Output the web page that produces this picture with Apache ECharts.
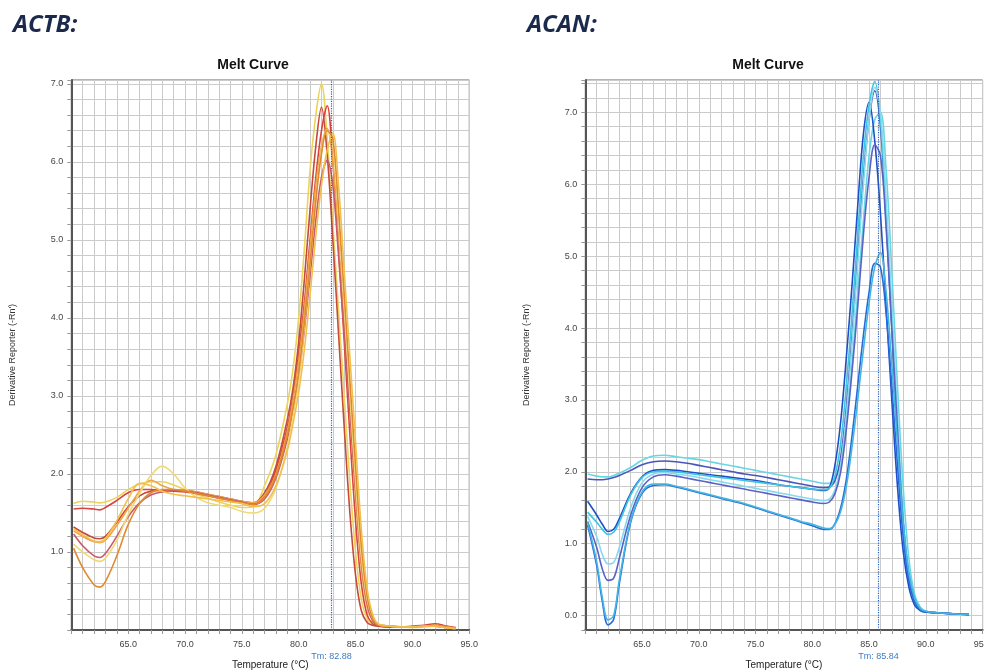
<!DOCTYPE html>
<html>
<head>
<meta charset="utf-8">
<title>Melt Curve</title>
<script src="https://cdn.jsdelivr.net/npm/echarts@6/dist/echarts.min.js"></script>
<style>
  html, body { margin: 0; padding: 0; background: #fff; }
  #chart { width: 984px; height: 670px; }
</style>
</head>
<body>
<div id="chart"></div>
<script>
// temperatures (°C) at which the derivative curves are sampled
const actbTemps = [60.2, 61, 62, 62.5, 63, 64, 65, 66, 67, 68, 69, 70, 71, 72, 73, 74, 75, 76, 77, 78, 79, 79.5, 80, 80.5, 81, 81.5, 82, 82.5, 83, 83.5, 84, 84.5, 85, 85.5, 86, 86.5, 87, 88, 89, 90, 91, 92, 93, 93.8];
const acanTemps = [60.2, 61, 61.5, 62, 62.5, 63, 64, 65, 66, 67, 68, 69, 70, 71, 72, 73, 74, 75, 76, 77, 78, 79, 80, 81, 81.5, 82, 82.5, 83, 83.5, 84, 84.5, 85, 85.5, 86, 86.5, 87, 87.5, 88, 88.5, 89, 89.5, 90, 91, 92, 93, 93.8];

// ACTB wells (-Rn')
const actb1 = [1.62, 1.65, 1.64, 1.63, 1.64, 1.7, 1.8, 1.87, 1.9, 1.9, 1.86, 1.8, 1.74, 1.69, 1.64, 1.6, 1.57, 1.58, 1.85, 2.25, 2.9, 3.35, 4.0, 4.9, 5.9, 6.6, 7.0, 6.3, 5.2, 4.1, 3.0, 1.9, 1.0, 0.4, 0.15, 0.07, 0.05, 0.04, 0.04, 0.03, 0.04, 0.05, 0.03, 0.02];
const actb2 = [1.55, 1.56, 1.55, 1.54, 1.57, 1.66, 1.76, 1.8, 1.8, 1.79, 1.78, 1.77, 1.75, 1.72, 1.69, 1.66, 1.63, 1.62, 1.72, 2.05, 2.6, 3.0, 3.55, 4.2, 5.0, 5.8, 6.4, 6.72, 6.0, 4.9, 3.7, 2.5, 1.4, 0.6, 0.2, 0.08, 0.05, 0.04, 0.04, 0.05, 0.06, 0.08, 0.05, 0.03];
const actb3 = [1.32, 1.25, 1.18, 1.17, 1.2, 1.38, 1.58, 1.72, 1.78, 1.79, 1.79, 1.79, 1.77, 1.74, 1.71, 1.68, 1.65, 1.63, 1.76, 2.1, 2.7, 3.1, 3.7, 4.5, 5.4, 6.2, 6.7, 6.1, 5.0, 3.8, 2.6, 1.5, 0.7, 0.25, 0.1, 0.06, 0.05, 0.04, 0.04, 0.04, 0.05, 0.05, 0.03, 0.02];
const actb4 = [1.27, 1.2, 1.13, 1.12, 1.15, 1.34, 1.56, 1.78, 1.92, 1.85, 1.8, 1.79, 1.77, 1.74, 1.71, 1.68, 1.65, 1.63, 1.73, 2.0, 2.55, 2.95, 3.45, 4.1, 4.9, 5.7, 6.2, 6.43, 6.0, 5.0, 3.9, 2.8, 1.7, 0.8, 0.3, 0.12, 0.06, 0.05, 0.04, 0.04, 0.05, 0.06, 0.04, 0.02];
const actb5 = [1.23, 1.08, 0.95, 0.93, 0.98, 1.2, 1.45, 1.63, 1.73, 1.77, 1.79, 1.78, 1.76, 1.73, 1.7, 1.67, 1.64, 1.61, 1.68, 1.95, 2.45, 2.8, 3.25, 3.85, 4.55, 5.25, 5.8, 6.02, 5.7, 4.8, 3.8, 2.8, 1.8, 0.9, 0.35, 0.12, 0.06, 0.05, 0.04, 0.04, 0.05, 0.05, 0.03, 0.02];
const actb6 = [1.1, 1.0, 0.9, 0.88, 0.92, 1.15, 1.48, 1.75, 1.98, 2.1, 2.0, 1.82, 1.7, 1.63, 1.6, 1.57, 1.52, 1.5, 1.56, 1.82, 2.35, 2.75, 3.2, 3.9, 4.7, 5.5, 6.15, 6.4, 6.2, 5.3, 4.2, 3.0, 1.9, 0.95, 0.4, 0.15, 0.07, 0.05, 0.04, 0.04, 0.04, 0.05, 0.03, 0.02];
const actb7 = [1.05, 0.8, 0.58, 0.55, 0.62, 0.95, 1.35, 1.62, 1.76, 1.8, 1.8, 1.78, 1.75, 1.72, 1.69, 1.66, 1.63, 1.61, 1.7, 1.98, 2.5, 2.85, 3.3, 3.95, 4.7, 5.5, 6.1, 6.4, 6.3, 5.4, 4.3, 3.2, 2.1, 1.1, 0.45, 0.15, 0.07, 0.05, 0.04, 0.04, 0.05, 0.06, 0.04, 0.02];
const actb8 = [1.3, 1.22, 1.14, 1.13, 1.17, 1.4, 1.68, 1.88, 1.85, 1.78, 1.74, 1.72, 1.7, 1.68, 1.66, 1.64, 1.62, 1.58, 1.62, 1.85, 2.3, 2.65, 3.05, 3.6, 4.3, 5.05, 5.7, 6.15, 6.37, 5.7, 4.6, 3.5, 2.4, 1.3, 0.55, 0.2, 0.08, 0.05, 0.04, 0.04, 0.05, 0.05, 0.03, 0.02];

// ACAN wells (-Rn')
const acan1 = [1.97, 1.94, 1.93, 1.93, 1.95, 1.98, 2.06, 2.16, 2.22, 2.23, 2.21, 2.19, 2.17, 2.14, 2.11, 2.08, 2.05, 2.02, 1.99, 1.96, 1.93, 1.9, 1.87, 1.84, 1.84, 1.9, 2.15, 2.7, 3.5, 4.5, 5.5, 6.4, 6.9, 7.0, 6.2, 4.8, 3.2, 1.8, 0.8, 0.3, 0.12, 0.06, 0.04, 0.03, 0.02, 0.02];
const acan2 = [1.9, 1.89, 1.89, 1.9, 1.92, 1.95, 2.02, 2.1, 2.14, 2.15, 2.14, 2.12, 2.09, 2.06, 2.03, 2.0, 1.97, 1.95, 1.92, 1.89, 1.86, 1.83, 1.8, 1.78, 1.79, 1.88, 2.2, 2.9, 3.9, 5.0, 6.1, 6.9, 7.3, 6.8, 5.5, 4.0, 2.5, 1.2, 0.5, 0.2, 0.08, 0.05, 0.04, 0.03, 0.02, 0.02];
const acan3 = [1.59, 1.4, 1.27, 1.17, 1.2, 1.35, 1.7, 1.93, 2.02, 2.03, 2.02, 2.0, 1.98, 1.96, 1.94, 1.92, 1.9, 1.88, 1.85, 1.82, 1.8, 1.78, 1.76, 1.74, 1.78, 2.1, 2.7, 3.6, 4.6, 5.7, 6.7, 7.14, 6.6, 5.6, 4.3, 3.0, 1.8, 0.9, 0.4, 0.15, 0.07, 0.05, 0.04, 0.03, 0.02, 0.01];
const acan4 = [1.44, 1.3, 1.2, 1.13, 1.16, 1.3, 1.68, 1.92, 2.0, 2.01, 2.0, 1.98, 1.96, 1.94, 1.92, 1.9, 1.88, 1.86, 1.84, 1.82, 1.8, 1.78, 1.76, 1.75, 1.77, 1.95, 2.4, 3.2, 4.2, 5.3, 6.4, 7.1, 7.43, 6.9, 5.6, 4.1, 2.6, 1.3, 0.6, 0.25, 0.1, 0.06, 0.04, 0.03, 0.02, 0.02];
const acan5 = [1.38, 1.1, 0.85, 0.72, 0.74, 0.95, 1.5, 1.85, 1.97, 1.99, 1.97, 1.95, 1.92, 1.89, 1.86, 1.83, 1.8, 1.77, 1.74, 1.71, 1.68, 1.65, 1.62, 1.6, 1.62, 1.75, 2.1, 2.8, 3.8, 4.9, 6.0, 6.9, 7.35, 7.0, 5.8, 4.3, 2.8, 1.4, 0.6, 0.25, 0.1, 0.06, 0.04, 0.03, 0.02, 0.02];
const acan6 = [1.31, 0.95, 0.65, 0.49, 0.52, 0.8, 1.4, 1.78, 1.93, 1.96, 1.94, 1.91, 1.88, 1.85, 1.82, 1.79, 1.76, 1.73, 1.7, 1.67, 1.64, 1.61, 1.58, 1.56, 1.58, 1.7, 2.0, 2.6, 3.4, 4.3, 5.3, 6.1, 6.55, 6.4, 5.4, 4.0, 2.6, 1.3, 0.55, 0.22, 0.09, 0.05, 0.04, 0.03, 0.02, 0.02];
const acan7 = [1.26, 0.7, 0.2, -0.13, -0.05, 0.45, 1.3, 1.7, 1.81, 1.82, 1.79, 1.75, 1.71, 1.67, 1.63, 1.59, 1.55, 1.5, 1.45, 1.4, 1.35, 1.3, 1.25, 1.2, 1.2, 1.28, 1.5, 1.9, 2.5, 3.2, 3.9, 4.5, 4.9, 4.85, 4.2, 3.2, 2.1, 1.1, 0.5, 0.2, 0.08, 0.05, 0.04, 0.03, 0.02, 0.02];
const acan8 = [1.3, 0.75, 0.25, -0.06, 0.0, 0.5, 1.32, 1.72, 1.83, 1.83, 1.8, 1.76, 1.72, 1.68, 1.64, 1.6, 1.56, 1.51, 1.46, 1.41, 1.36, 1.31, 1.27, 1.22, 1.21, 1.27, 1.45, 1.8, 2.35, 3.0, 3.7, 4.35, 4.85, 5.05, 4.5, 3.5, 2.4, 1.3, 0.6, 0.25, 0.1, 0.06, 0.04, 0.03, 0.02, 0.02];

const tmACTB = 82.88;
const tmACAN = 85.84;

const actbSets = [actb1, actb2, actb3, actb4, actb5, actb6, actb7, actb8];
const acanSets = [acan1, acan2, acan3, acan4, acan5, acan6, acan7, acan8];
const actbColors = ["#ecd35a", "#d9443c", "#c44a3a", "#f0a443", "#c85a6e", "#efd978", "#e08a30", "#f3bf4c"];
const acanColors = ["#6ad6e2", "#4a55bc", "#1f4fc8", "#3ec4e0", "#86d9ee", "#5b62c6", "#2a6ad8", "#41b6e2"];

const txt = "Liberation Sans, Arial, sans-serif";

function xAxisCfg(gi) {
  return {
    type: "value", gridIndex: gi, min: 60, max: 95, interval: 1,
    name: "Temperature (°C)", nameLocation: "middle", nameGap: 30,
    nameTextStyle: { fontFamily: txt, fontSize: 10, color: "#222" },
    axisLine: { onZero: false, lineStyle: { color: "#555", width: 2 } },
    axisTick: { show: true, length: 4, inside: false, lineStyle: { color: "#999" } },
    axisLabel: {
      fontFamily: txt, fontSize: 9, color: "#444", margin: 10,
      formatter: v => (v % 5 === 0 && v > 60) ? v.toFixed(1) : ""
    },
    splitLine: { show: true, lineStyle: { color: "#cbcbcb", width: 1 } }
  };
}

function yAxisCfg(gi, min, max, showZero) {
  return {
    type: "value", gridIndex: gi, min: min, max: max, interval: 0.2,
    name: "Derivative Reporter (-Rn')", nameLocation: "middle", nameGap: 54,
    nameTextStyle: { fontFamily: txt, fontSize: 9, color: "#333" },
    axisLine: { lineStyle: { color: "#555", width: 2 } },
    axisTick: { show: true, length: 4, lineStyle: { color: "#999" } },
    axisLabel: {
      fontFamily: txt, fontSize: 9, color: "#444", margin: 8,
      formatter: v => {
        const r = Math.round(v);
        if (Math.abs(v - r) > 1e-6) return "";
        if (r === 0 && !showZero) return "";
        return r.toFixed(1);
      }
    },
    splitLine: { show: true, lineStyle: { color: "#cbcbcb", width: 1 } }
  };
}

function makeSeries(temps, sets, colors, gi, tm) {
  return sets.map((vals, k) => {
    const s = {
      type: "line", xAxisIndex: gi, yAxisIndex: gi,
      data: temps.map((t, i) => [t, vals[i]]),
      smooth: 0.35, showSymbol: false, symbol: "none",
      lineStyle: { color: colors[k], width: 1.6 },
      z: 3
    };
    if (k === 0) {
      s.markLine = {
        silent: true, symbol: "none",
        lineStyle: { color: "#2f5fb3", type: "dotted", width: 1.2 },
        label: {
          show: true, position: "start", distance: 22,
          formatter: "Tm: " + tm.toFixed(2),
          fontFamily: txt, fontSize: 9, color: "#3d7bc4"
        },
        data: [{ xAxis: tm }]
      };
    }
    return s;
  });
}

const chart = echarts.init(document.getElementById("chart"), null, { renderer: "canvas" });
chart.setOption({
  animation: false,
  backgroundColor: "#fff",
  title: [
    { text: "ACTB:", left: 8, top: 8,
      textStyle: { fontFamily: "Open Sans", fontStyle: "italic", fontWeight: "bold", fontSize: 24, color: "#1b2a4c" } },
    { text: "ACAN:", left: 522, top: 8,
      textStyle: { fontFamily: "Open Sans", fontStyle: "italic", fontWeight: "bold", fontSize: 24, color: "#1b2a4c" } },
    { text: "Melt Curve", left: 248, top: 53, textAlign: "center",
      textStyle: { fontFamily: txt, fontWeight: "bold", fontSize: 14, color: "#111" } },
    { text: "Melt Curve", left: 763, top: 53, textAlign: "center",
      textStyle: { fontFamily: txt, fontWeight: "bold", fontSize: 14, color: "#111" } }
  ],
  grid: [
    { left: 71.3, top: 80, width: 398, height: 550, outerBoundsMode: "none",
      show: true, borderColor: "#666", borderWidth: 1 },
    { left: 585.3, top: 80, width: 397.3, height: 550, outerBoundsMode: "none",
      show: true, borderColor: "#666", borderWidth: 1 }
  ],
  xAxis: [xAxisCfg(0), xAxisCfg(1)],
  yAxis: [yAxisCfg(0, 0, 7.05, false), yAxisCfg(1, -0.2, 7.45, true)],
  series: makeSeries(actbTemps, actbSets, actbColors, 0, tmACTB)
    .concat(makeSeries(acanTemps, acanSets, acanColors, 1, tmACAN))
});
</script>
</body>
</html>
